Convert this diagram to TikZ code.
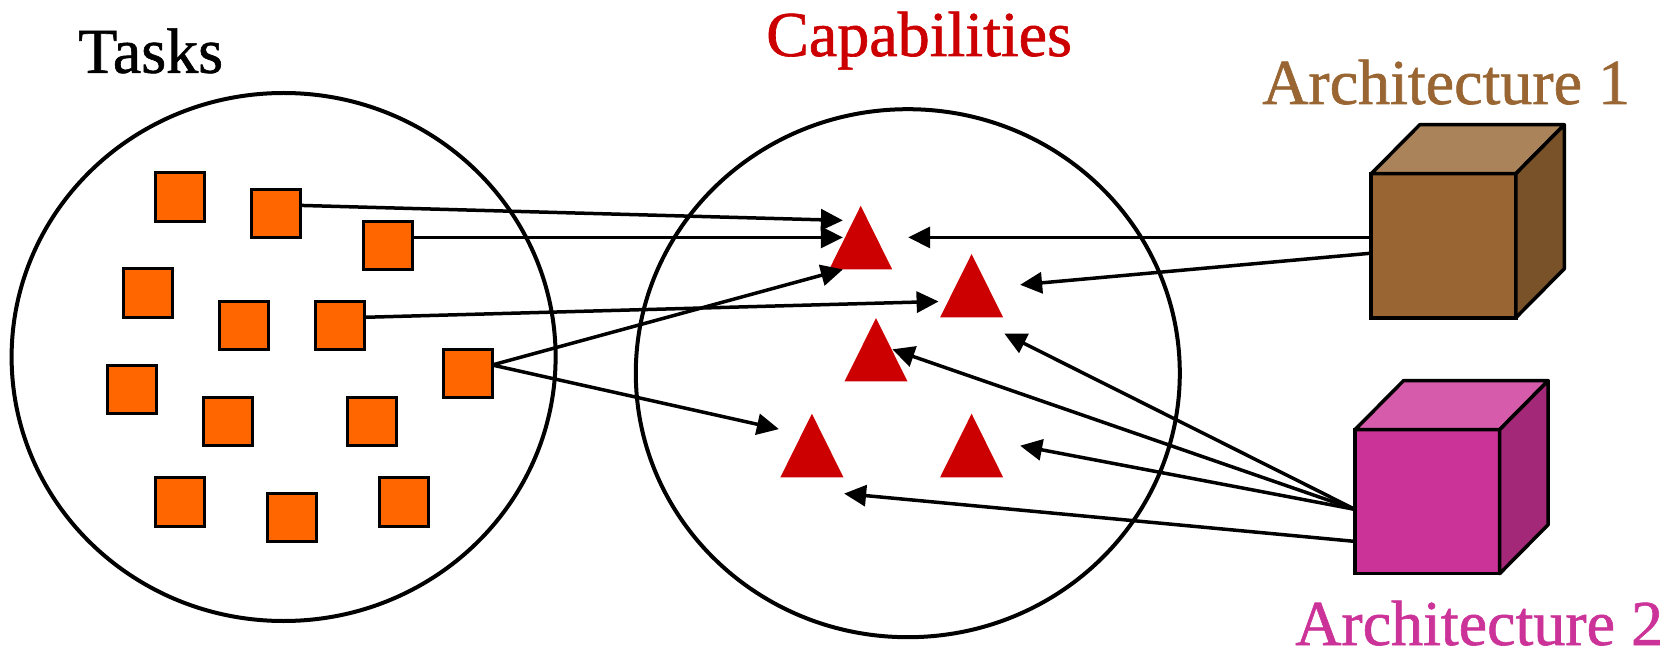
\documentclass[tikz,border=0pt]{standalone}
\usepackage{fontspec}
\setmainfont{Liberation Serif}
\newfontfamily\diagfont[FakeBold=1]{Liberation Serif}
\usetikzlibrary{arrows.meta,calc,shapes.geometric}
\definecolor{taskorange}{HTML}{FF6600}
\definecolor{capred}{HTML}{CC0000}
\definecolor{archbrown}{HTML}{996633}
\definecolor{archbrowntop}{HTML}{AA835B}
\definecolor{archbrownside}{HTML}{7A5229}
\definecolor{archpink}{HTML}{CC3399}
\definecolor{archpinktop}{HTML}{D65BAA}
\definecolor{archpinkside}{HTML}{A32877}
\begin{document}
\begin{tikzpicture}[x=1pt,y=-1pt,
  task/.style={draw=black, line width=3pt, fill=taskorange, minimum width=49pt, minimum height=48.6pt, inner sep=0pt, outer sep=0pt},
  region/.style={draw=black, line width=4pt, ellipse, minimum width=544pt, minimum height=528pt, inner sep=0pt},
  capability/.style={fill=capred},
  cubefront/.style={draw=black, line width=3.5pt, minimum width=144.6pt, minimum height=144pt, inner sep=0pt, outer sep=0pt},
  cubeface/.style={draw=black, line width=3.5pt, line join=round},
  conn/.style={-{Triangle[length=22pt,width=21pt]}, line width=3.5pt},
  title/.style={font=\diagfont\fontsize{64}{70}\selectfont, inner sep=0pt, anchor=base west}]
\useasboundingbox (0,0) rectangle (1673,652);

% titles
\node[title] (tasksl) at (78,72.8) {Tasks};
\node[title, text=capred] (capl) at (766,56) {Capabilities};
\node[title, text=archbrown] (arch1l) at (1262,104) {Architecture 1};
\node[title, text=archpink] (arch2l) at (1295,645) {Architecture 2};

% regions
\node[region] (tasks) at (283.6,357) {};
\node[region] (caps) at (907.8,373.2) {};

% tasks
\node[task] (s1) at (179.7,197.3) {};
\node[task] (s2) at (275.7,213.5) {};
\node[task] (s3) at (387.7,245.5) {};
\node[task] (s4) at (147.5,293.3) {};
\node[task] (s5) at (243.8,325.4) {};
\node[task] (s6) at (339.8,325.4) {};
\node[task] (s7) at (131.6,389.4) {};
\node[task] (s8) at (467.7,373.6) {};
\node[task] (s9) at (227.7,421.4) {};
\node[task] (s10) at (371.6,421.4) {};
\node[task] (s11) at (179.7,501.7) {};
\node[task] (s12) at (291.6,517.5) {};
\node[task] (s13) at (403.7,501.7) {};

% capabilities
\fill[capability] (860.7,205.8) -- ++(-31.5,63.6) -- ++(63,0) -- cycle;
\fill[capability] (971.6,254) -- ++(-31.5,63.4) -- ++(63,0) -- cycle;
\fill[capability] (876,318.1) -- ++(-31.5,63.3) -- ++(63,0) -- cycle;
\fill[capability] (811.9,413.7) -- ++(-31.5,63.6) -- ++(63,0) -- cycle;
\fill[capability] (971.6,413.7) -- ++(-31.5,63.6) -- ++(63,0) -- cycle;

% architecture cubes
\node[cubefront, fill=archbrown] (arch1) at (1443.5,245.75) {};
\draw[cubeface, fill=archbrowntop] (arch1.north west) -- ++(48.5,-49) -- ($(arch1.north east)+(48.5,-49)$) -- (arch1.north east) -- cycle;
\draw[cubeface, fill=archbrownside] (arch1.north east) -- ++(48.5,-49) -- ($(arch1.south east)+(48.5,-49)$) -- (arch1.south east) -- cycle;

\node[cubefront, fill=archpink] (arch2) at (1427.35,501.65) {};
\draw[cubeface, fill=archpinktop] (arch2.north west) -- ++(48.5,-49) -- ($(arch2.north east)+(48.5,-49)$) -- (arch2.north east) -- cycle;
\draw[cubeface, fill=archpinkside] (arch2.north east) -- ++(48.5,-49) -- ($(arch2.south east)+(48.5,-49)$) -- (arch2.south east) -- cycle;

% arrow targets
\coordinate (a1) at (842.9,220.4);
\coordinate (a2) at (842.9,237.4);
\coordinate (a3) at (842.9,269.4);
\coordinate (a4) at (938.6,301.5);
\coordinate (a5) at (778.9,429.1);
\coordinate (b1) at (908.2,237.4);
\coordinate (b2) at (1020.1,284.8);
\coordinate (c1) at (1004.3,333.5);
\coordinate (c2) at (892.4,349.3);
\coordinate (c3) at (1020.1,445.7);
\coordinate (c4) at (844.1,493.6);

% connectors
\draw[conn] ($(s2.east)+(0,-8.1)$) -- (a1);
\draw[conn] ($(s3.east)+(0,-8.1)$) -- (a2);
\draw[conn] ($(s6.east)+(0,-8.1)$) -- (a4);
\draw[conn] ($(s8.east)+(0,-8.6)$) -- (a3);
\draw[conn] ($(s8.east)+(0,-8.6)$) -- (a5);
\draw[conn] ($(arch1.west)+(0,-8.35)$) -- (b1);
\draw[conn] ($(arch1.west)+(0,7.45)$) -- (b2);
\draw[conn] ($(arch2.west)+(0,7.75)$) -- (c1);
\draw[conn] ($(arch2.west)+(0,7.75)$) -- (c2);
\draw[conn] ($(arch2.west)+(0,7.75)$) -- (c3);
\draw[conn] ($(arch2.west)+(0,39.75)$) -- (c4);
\end{tikzpicture}
\end{document}
